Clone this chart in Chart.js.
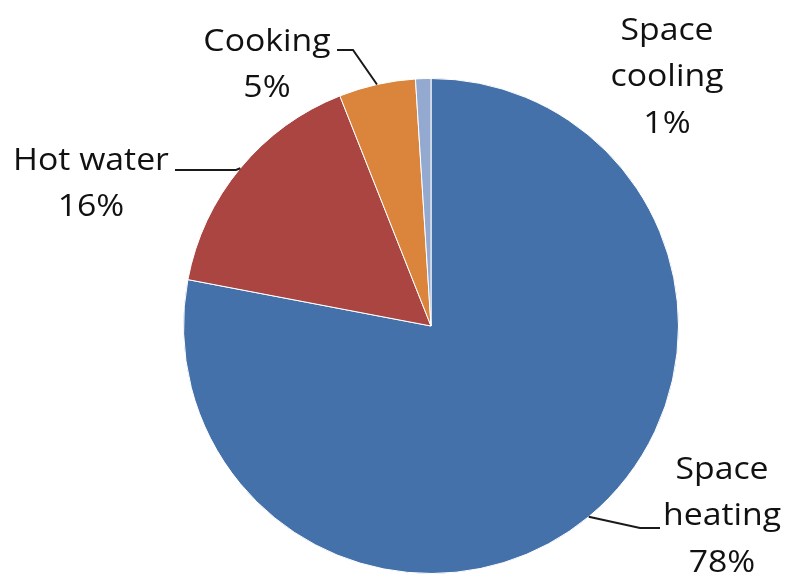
<!DOCTYPE html>
<html lang="en">
<head>
<meta charset="UTF-8">
<title>Household energy use by end use</title>
<script src="https://cdn.jsdelivr.net/npm/chart.js"></script>
<style>
  html, body { margin: 0; padding: 0; background: #fff; }
  .chart-container { position: relative; width: 787px; height: 578px; }
</style>
</head>
<body>
<div class="chart-container">
  <canvas id="energyChart"></canvas>
</div>
<script>
// end uses, clockwise from 12 o'clock
const categories = ['Space heating', 'Hot water', 'Cooking', 'Space cooling'];
const shares = [78, 16, 5, 1];
const labelLines = [['Space', 'heating', '78%'], ['Hot water', '16%'], ['Cooking', '5%'], ['Space', 'cooling', '1%']];
const colors = ['#4571AA', '#AA4542', '#DA843C', '#93A9D0'];

// label placement: text centre, first line y, and leader elbow/end (null = no leader)
const labelLayout = [
  { x: 722, y: 470, elbow: [640, 528], end: [660, 528] },
  { x: 91,  y: 161, elbow: [236, 170], end: [175, 170] },
  { x: 267, y: 42,  elbow: [353, 50],  end: [337, 50] },
  { x: 667, y: 31,  elbow: null,       end: null }
];

const calloutPlugin = {
  id: 'callouts',
  afterDatasetsDraw(chart) {
    const ctx = chart.ctx;
    const arcs = chart.getDatasetMeta(0).data;
    ctx.save();
    arcs.forEach((arc, i) => {
      const lay = labelLayout[i];
      if (lay.elbow) {
        const mid = (arc.startAngle + arc.endAngle) / 2;
        const sx = arc.x + Math.cos(mid) * arc.outerRadius;
        const sy = arc.y + Math.sin(mid) * arc.outerRadius;
        ctx.beginPath();
        ctx.strokeStyle = '#1a1a1a';
        ctx.lineWidth = 2;
        ctx.moveTo(sx, sy);
        ctx.lineTo(lay.elbow[0], lay.elbow[1]);
        ctx.lineTo(lay.end[0], lay.end[1]);
        ctx.stroke();
      }
      ctx.fillStyle = '#111';
      ctx.font = '31px "Open Sans", Lato, sans-serif';
      ctx.textAlign = 'center';
      ctx.textBaseline = 'middle';
      labelLines[i].forEach((t, k) => {
        // slightly wider lettering
        ctx.save();
        ctx.translate(lay.x, lay.y + k * 46.5);
        ctx.scale(1.09, 1);
        ctx.fillText(t, 0, 0);
        ctx.restore();
      });
    });
    ctx.restore();
  }
};

new Chart(document.getElementById('energyChart'), {
  type: 'pie',
  data: {
    labels: categories,
    datasets: [{
      data: shares,
      backgroundColor: colors,
      borderColor: '#ffffff',
      borderWidth: 1
    }]
  },
  options: {
    responsive: true,
    maintainAspectRatio: false,
    animation: false,
    layout: { padding: { left: 183, right: 108, top: 78, bottom: 4 } },
    plugins: {
      legend: { display: false },
      tooltip: { enabled: false }
    }
  },
  plugins: [calloutPlugin]
});
</script>
</body>
</html>
